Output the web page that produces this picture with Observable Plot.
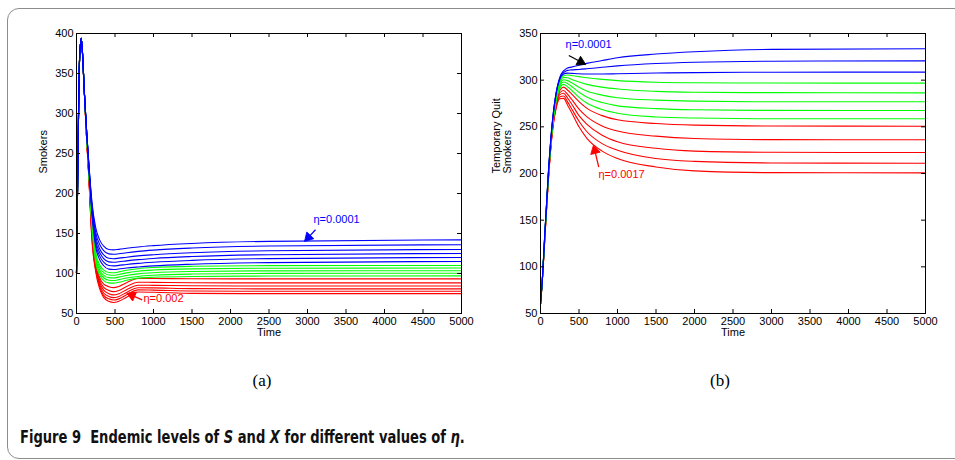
<!DOCTYPE html>
<html><head><meta charset="utf-8">
<script src="https://cdn.jsdelivr.net/npm/d3@7"></script>
<script src="https://cdn.jsdelivr.net/npm/@observablehq/plot@0.6"></script>
<style>
body{margin:0;background:#fff;width:955px;height:460px;overflow:hidden;position:relative;font-family:"Liberation Sans",Arial,sans-serif;}
#frame{position:absolute;left:7px;top:8px;width:990px;height:449px;border:1px solid #8c8c8c;border-radius:12px;}
#pa{position:absolute;left:0;top:0;}
#pb{position:absolute;left:480px;top:0;}
.sub{position:absolute;top:370px;width:100px;text-align:center;font-family:"Liberation Serif","Times New Roman",serif;font-size:17px;line-height:22px;}
#cap{position:absolute;left:20px;top:426px;font-family:"DejaVu Sans Condensed","Liberation Sans Narrow",sans-serif;font-weight:bold;font-size:17px;line-height:22px;white-space:nowrap;color:#111;transform:scaleX(0.855);transform-origin:0 0;}
</style></head>
<body>
<div id="frame"></div>
<div id="pa"></div>
<div id="pb"></div>
<div class="sub" style="left:212px">(a)</div>
<div class="sub" style="left:670px">(b)</div>
<div id="cap">Figure 9&nbsp; Endemic levels of <i>S</i> and <i>X</i> for different values of <i>η</i>.</div>
<script>
// ---------- Panel (a): Smokers ----------
const timeA = [0,20,40,62,80,100,130,160,200,250,300,350,420,480,550,650,800,1000,1500,2500,5000];
const smokersBlue = [
 [100,255,368,394,372,330,280,238,190,157,142,134.5,130,129.5,130.2,131.5,133.2,134.8,137.5,140.2,142],
 [100,255,368,394,372,330,280,237,187,151,136.5,129,124.5,124,124.7,126,127.6,129.2,131.8,134.3,136],
 [100,255,368,394,372,330,280,236,184,146,131,123.5,119,118.5,119.2,120.4,122,123.5,126,128.4,130],
 [100,255,368,394,372,330,280,235,181,141,126.5,119,114.5,114,114.6,115.8,117.3,118.8,121.2,123.5,125],
 [100,255,368,394,372,330,280,234,178,137,122,114.5,110,109.5,110.1,111.3,112.7,114.1,116.4,118.6,120],
 [100,255,368,394,372,330,280,233,175,133,117.5,110,105.5,105,105.6,106.8,108.1,109.5,111.6,113.6,115]
];
const smokersGreen = [
 [100,255,368,394,372,330,276,231,172,126,111,104.5,101.3,101,102,104,106,107.5,109,109.8,110],
 [100,255,368,394,372,330,276,230,169,123,108,101.3,98.1,97.8,98.8,100.8,102.8,104.3,105.8,106.6,106.8],
 [100,255,368,394,372,330,276,229,166,120,104.5,98,94.8,94.5,95.5,97.5,99.5,101,102.5,103.3,103.5],
 [100,255,368,394,372,330,276,228,163,117,101.5,95,91.6,91.3,92.3,94.3,96.3,97.8,99.3,100.1,100.3],
 [100,255,368,394,372,330,276,227,160,114,98.5,91.5,88.3,88,89,91.5,94.2,95.3,96.3,96.8,97]
];
const smokersRed = [
 [100,255,368,394,372,330,272,225,157,112,95,87,83.5,82.3,83.8,88.5,93.8,93.7,93.4,93.3,93.3],
 [100,255,368,394,372,330,272,224,154,110,92,83,78.8,77.3,78.8,83.8,89.1,88.9,88.5,88.3,88.3],
 [100,255,368,394,372,330,272,223,151,108,89,79.5,74.8,73.3,74.8,79.8,85.4,85.2,84.6,84.3,84.3],
 [100,255,368,394,372,330,272,222,148,106,86,76,71.3,69.8,71.3,76.3,82.2,82,81.1,80.8,80.8],
 [100,255,368,394,372,330,272,221,145,104,83.5,73,68.3,66.8,68.3,73.3,79.5,79.2,78.2,77.8,77.8],
 [100,255,368,394,372,330,272,220,142,102,81,70.5,65.3,63.8,65.3,70.3,76.8,76.5,75.2,74.8,74.8]
];
const yTicksA = [50,100,150,200,250,300,350,400];

// ---------- Panel (b): Temporary quit smokers ----------
const timeB = [0,25,50,100,150,200,250,300,350,400,500,600,800,1000,1500,2000,3000,5000];
const quitBlue = [
 [60,88,126,198,252,285,303,310,313,314,316,318,321,324,328,330.5,333,333.6],
 [60,88,126,198,252,285,302,308,310.5,311,311.5,312.2,313.8,315.3,317.8,319.2,320.3,320.7],
 [60,88,126,197,251,284,301,306.5,307.5,307.3,306.8,306.6,306.6,306.9,307.6,308.1,308.5,308.6]
];
const quitGreen = [
 [60,88,125,196,250,282,299,305,305.5,305,303.8,302.6,300.8,299.5,297.8,297.2,296.9,296.8],
 [60,88,125,196,249,281,297,303,302.5,301,298,295.5,292.5,290.5,288,287.1,286.6,286.4],
 [60,88,125,195,248,279,295,300.5,299.5,297.5,292.5,288.5,284,281.2,278.6,277.5,276.9,276.8],
 [60,88,124,195,247,278,293,298,296.5,293.5,287,282,276,272.5,269.5,268.3,267.6,267.5],
 [60,88,124,194,246,276,291,295.5,293,289.5,281.5,275.5,268.5,264.5,260.6,259.4,258.7,258.6]
];
const quitRed = [
 [60,87,123,193,245,275,289,292.5,289.5,285.5,277,270,262,257.5,253.5,251.8,250.9,250.7],
 [60,87,123,192,244,273,286.5,289,285,280,269,261,251,245.5,240,237.5,236.3,236.1],
 [60,87,122,192,243,272,284.5,286,281,275,262,253,241,234,227,224,222.7,222.5],
 [60,87,122,191,242,270,282,283,277,270,256,245,232,225,216,213,211.3,211],
 [60,87,121,190,241,268.5,280,280.5,273.5,266,250,238,224,216,207,202.8,200.9,200.7]
];
const yTicksB = [50,100,150,200,250,300,350];
const xTicks = [0,500,1000,1500,2000,2500,3000,3500,4000,4500,5000];

// ---------- Annotations ----------
const notesA_text = ["η=0.0001","η=0.002"];
const notesA_t = [3078, 870];
const notesA_v = [167.5, 68.8];
const notesA_color = ["#0000ff","#ff0000"];
const arrowsA_t1 = [3104, 853], arrowsA_v1 = [154.6, 67.1];
const arrowsA_t2 = [2974, 671], arrowsA_v2 = [141.3, 74.6];
const arrowsA_color = ["#0000ff","#ff0000"];

const notesB_text = ["η=0.0001","η=0.0017"];
const notesB_t = [325, 753];
const notesB_v = [338.2, 199];
const notesB_color = ["#0000ff","#ff0000"];
const arrowsB_t1 = [368, 757], arrowsB_v1 = [326.4, 206.8];
const arrowsB_t2 = [571, 692], arrowsB_v2 = [317.5, 228.9];
const arrowsB_color = ["#000000","#ff0000"];

const BLUE = "#0000ff", GREEN = "#00ff00", RED = "#ff0000";

function flatten(time, rows, group) {
  const out = [];
  rows.forEach((row, k) => row.forEach((v, i) => out.push({t: time[i], v, s: group + k})));
  return out;
}

function panel(opt) {
  const {width, height, mL, mR, mT, mB, yDomain, yTicks, time, blue, green, red, ylabel, ylabelDx,
         notesText, notesT, notesV, notesColor, a_t1, a_v1, a_t2, a_v2, aColor} = opt;
  const innerW = width - mL - mR, innerH = height - mT - mB;
  const kx = innerW / 5000, ky = innerH / (yDomain[1] - yDomain[0]); // px per data unit
  const idx = d3.range(notesText.length);
  // arrow-head geometry (screen direction of each arrow)
  const heads = idx.map(i => {
    const dx = (a_t2[i] - a_t1[i]) * kx, dy = -(a_v2[i] - a_v1[i]) * ky;
    const len = Math.hypot(dx, dy), ux = dx / len, uy = dy / len;
    const back = 4.2; // head centre sits behind the tip
    return {t: a_t2[i] - ux * back / kx, v: a_v2[i] + uy * back / ky,
            rot: Math.atan2(ux, -uy) * 180 / Math.PI, c: aColor[i],
            st: a_t2[i] - ux * 6 / kx, sv: a_v2[i] + uy * 6 / ky};
  });
  const line = (rows, g, c) => Plot.line(flatten(time, rows, g), {x: "t", y: "v", z: "s", stroke: c, strokeWidth: 1.1, curve: "monotone-x"});
  return Plot.plot({
    width, height, marginLeft: mL, marginRight: mR, marginTop: mT, marginBottom: mB,
    style: {fontFamily: '"Liberation Sans", Arial, sans-serif', fontSize: "11px", color: "black", background: "transparent", overflow: "visible"},
    x: {domain: [0, 5000], ticks: xTicks, tickSize: 0, tickPadding: 4, label: null, tickFormat: d => String(d)},
    y: {domain: yDomain, ticks: yTicks, tickSize: 0, tickPadding: 3, label: null, tickFormat: d => String(d)},
    marks: [
      line(red, "r", RED),
      line(green, "g", GREEN),
      line(blue, "b", BLUE),
      Plot.frame({stroke: "black", strokeWidth: 1}),
      Plot.tickX(xTicks, {x: d => d, insetTop: innerH - 4, stroke: "black"}),
      Plot.tickX(xTicks, {x: d => d, insetBottom: innerH - 4, stroke: "black"}),
      Plot.tickY(yTicks, {y: d => d, insetLeft: innerW - 4, stroke: "black"}),
      Plot.tickY(yTicks, {y: d => d, insetRight: innerW - 4, stroke: "black"}),
      Plot.link(idx, {x1: i => a_t1[i], y1: i => a_v1[i], x2: i => heads[i].st, y2: i => heads[i].sv,
        stroke: i => aColor[i], strokeWidth: 1.3}),
      Plot.dot(heads, {x: "t", y: "v", symbol: "triangle", r: 3.6, rotate: "rot", fill: "c", stroke: "c", strokeWidth: 0.8}),
      Plot.text(idx, {x: i => notesT[i], y: i => notesV[i], text: i => notesText[i], fill: i => notesColor[i],
        textAnchor: "start", fontSize: 11}),
      Plot.text([ylabel], {frameAnchor: "left", dx: ylabelDx, rotate: -90, fontSize: 11, lineHeight: 1.05}),
      Plot.text(["Time"], {frameAnchor: "bottom", dy: 22, fontSize: 11})
    ]
  });
}

const figA = panel({width: 480, height: 345, mL: 76, mR: 19, mT: 33, mB: 32,
  yDomain: [50, 400], yTicks: yTicksA, time: timeA, blue: smokersBlue, green: smokersGreen, red: smokersRed,
  ylabel: "Smokers", ylabelDx: -33,
  notesText: notesA_text, notesT: notesA_t, notesV: notesA_v, notesColor: notesA_color,
  a_t1: arrowsA_t1, a_v1: arrowsA_v1, a_t2: arrowsA_t2, a_v2: arrowsA_v2, aColor: arrowsA_color});
document.getElementById("pa").appendChild(figA);

const figB = panel({width: 475, height: 345, mL: 60, mR: 30, mT: 33, mB: 32,
  yDomain: [50, 350], yTicks: yTicksB, time: timeB, blue: quitBlue, green: quitGreen, red: quitRed,
  ylabel: "Temporary Quit\nSmokers", ylabelDx: -38.5,
  notesText: notesB_text, notesT: notesB_t, notesV: notesB_v, notesColor: notesB_color,
  a_t1: arrowsB_t1, a_v1: arrowsB_v1, a_t2: arrowsB_t2, a_v2: arrowsB_v2, aColor: arrowsB_color});
document.getElementById("pb").appendChild(figB);
</script>
</body></html>
